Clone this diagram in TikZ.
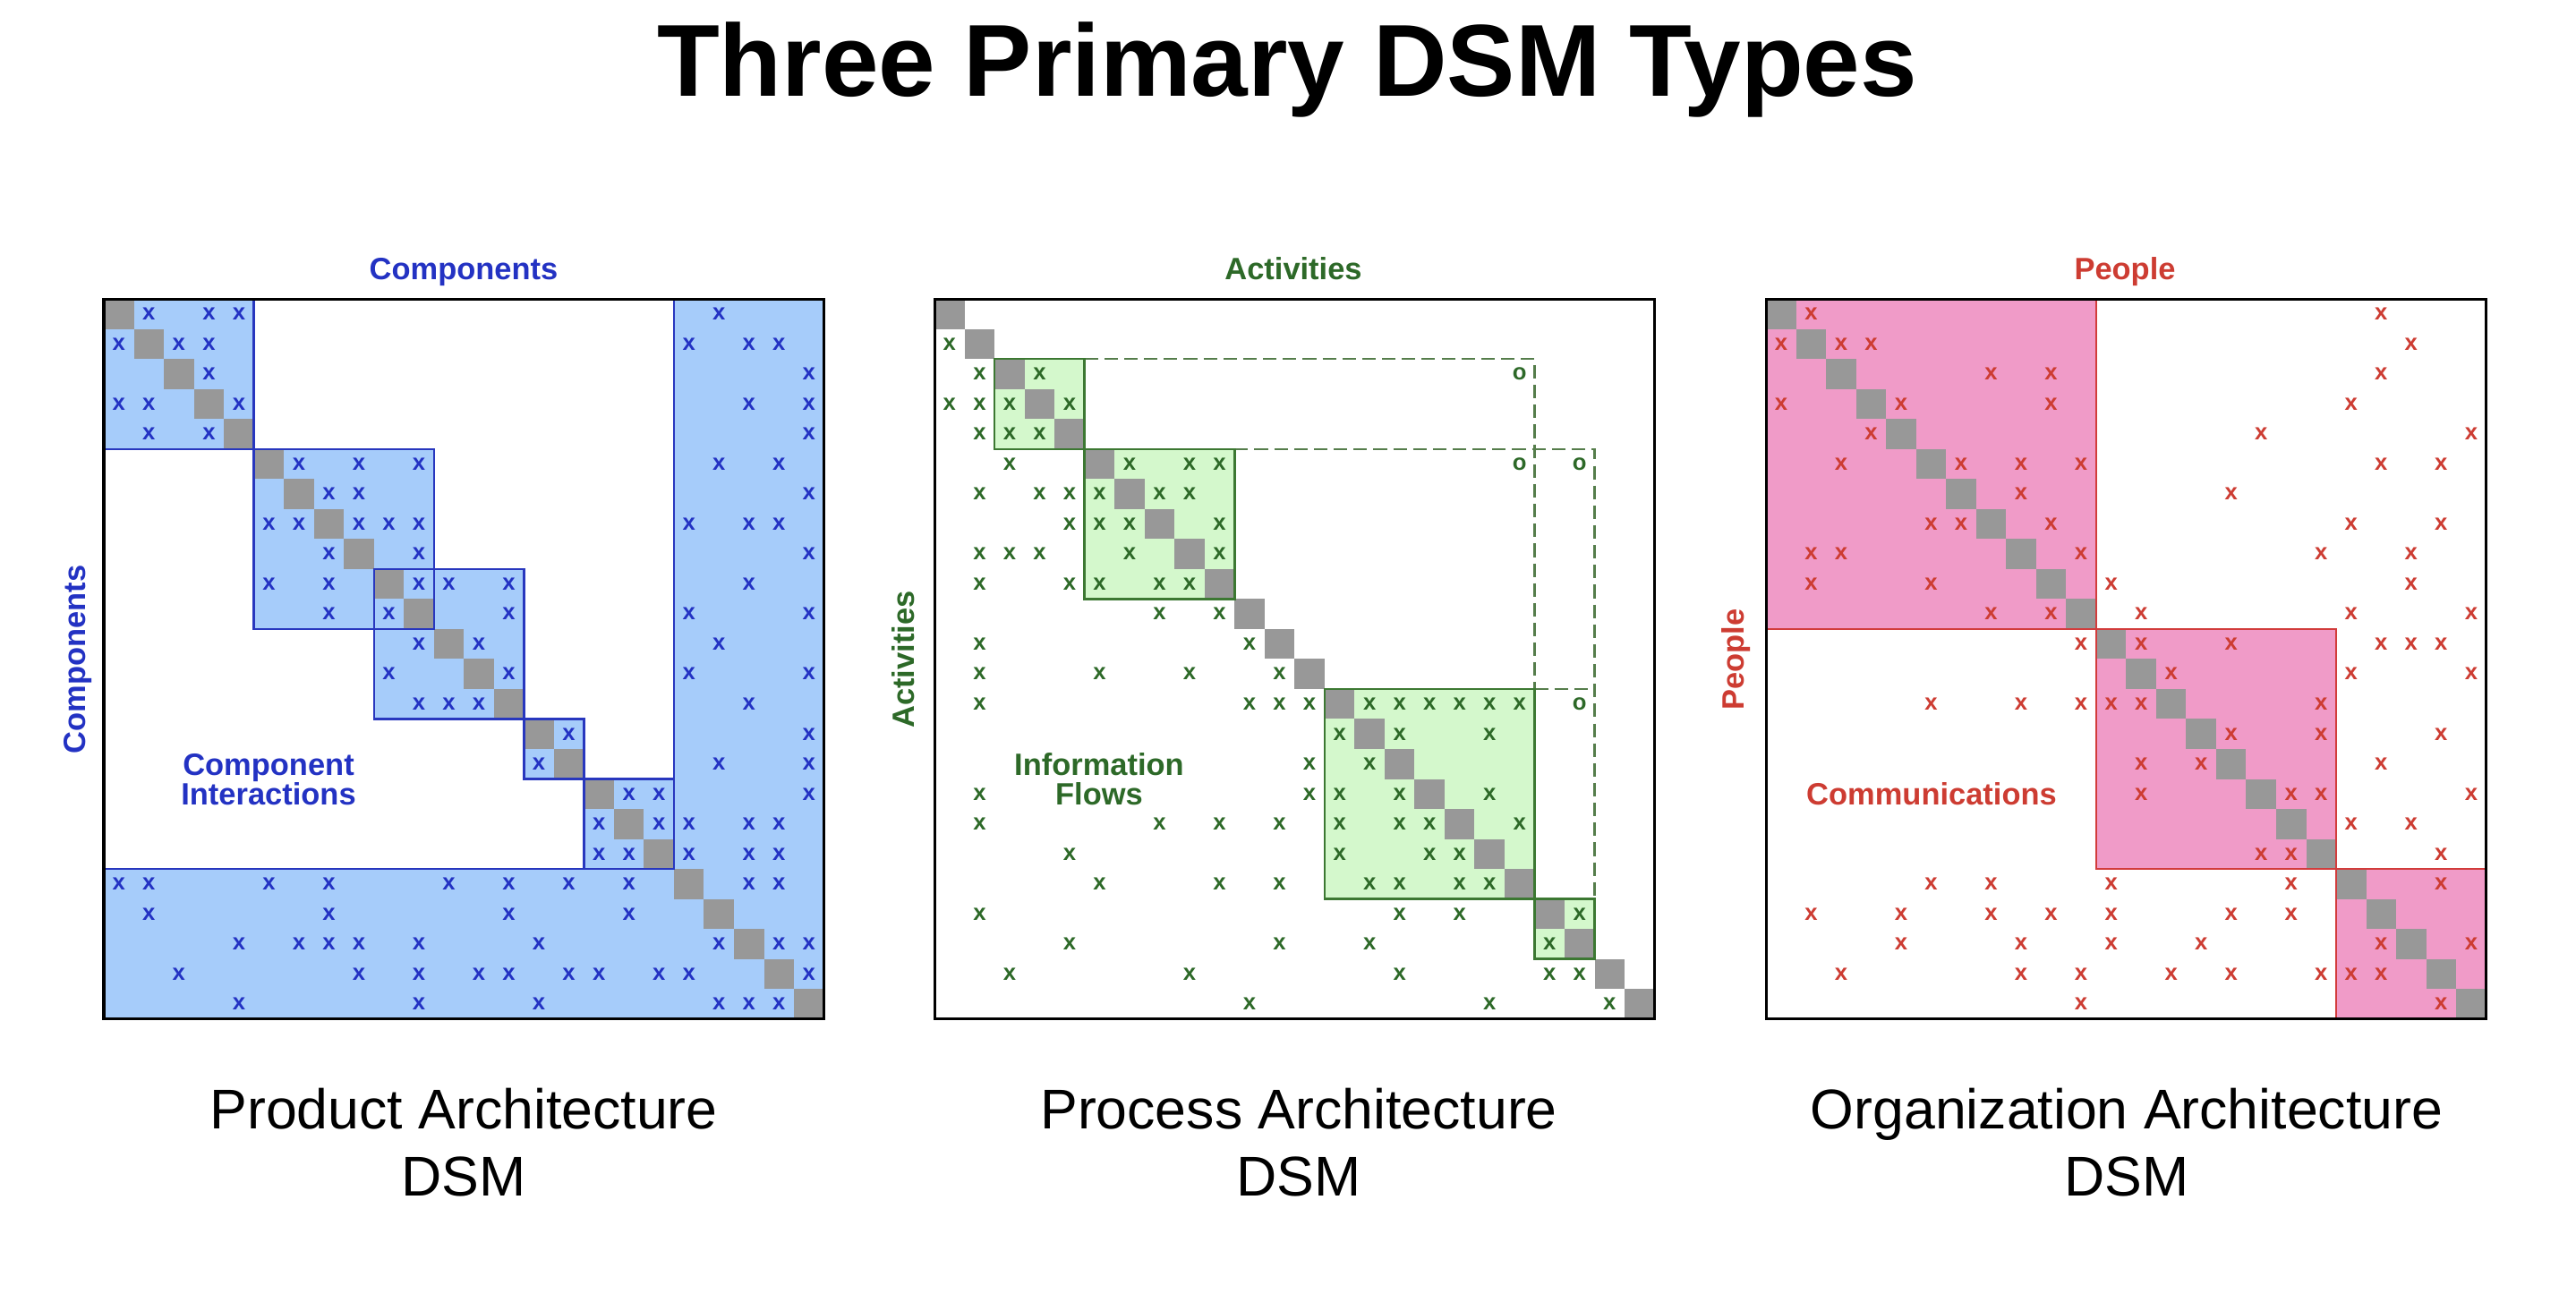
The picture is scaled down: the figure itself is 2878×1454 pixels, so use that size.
\documentclass[tikz,border=0pt]{standalone}
\usepackage{fontspec}
\setmainfont{Liberation Sans}
\definecolor{diaggray}{RGB}{152,152,152}
\definecolor{bfill}{RGB}{166,204,250}
\definecolor{bline}{RGB}{40,55,190}
\definecolor{btxt}{RGB}{35,50,195}
\definecolor{gfill}{RGB}{212,248,204}
\definecolor{gline}{RGB}{60,120,50}
\definecolor{gtxt}{RGB}{45,105,40}
\definecolor{gdash}{RGB}{85,125,75}
\definecolor{pfill}{RGB}{240,155,200}
\definecolor{rline}{RGB}{210,60,60}
\definecolor{rtxt}{RGB}{205,60,50}
\begin{document}
\begin{tikzpicture}[x=0.01cm,y=-0.01cm,
  mk/.style={font=\fontsize{7.3}{8}\selectfont\bfseries, inner sep=0pt},
  frame/.style={draw=black, line width=0.9pt},
  blk/.style={line width=0.7pt},
  dashln/.style={draw=gdash, line width=0.7pt, dash pattern=on 4.3pt off 2pt},
  axlab/.style={font=\fontsize{9.8}{9.4}\selectfont\bfseries, inner sep=0pt},
  inlab/.style={font=\fontsize{9.8}{9.4}\selectfont\bfseries, inner sep=0pt, anchor=base},
  botlab/.style={font=\fontsize{17.8}{21}\selectfont, inner sep=0pt, anchor=base}]
\useasboundingbox[fill=white] (0,0) rectangle (2878,1454);

\node[anchor=base, inner sep=0pt, font=\fontsize{32.5}{38}\selectfont\bfseries] (title) at (1438,107) {Three Primary DSM Types};

% ---------------- Matrix 1: Product ----------------
\begin{scope}[shift={(1.16cm,-3.34cm)},x=0.335cm,y=-0.335cm]
  \fill[bfill] (0,0) rectangle (5,5);
  \fill[bfill] (5,5) rectangle (11,11);
  \fill[bfill] (9,9) rectangle (14,14);
  \fill[bfill] (14,14) rectangle (16,16);
  \fill[bfill] (16,16) rectangle (19,19);
  \fill[bfill] (19,0) -- (24,0) -- (24,24) -- (0,24) -- (0,19) -- (19,19) -- cycle;
  \foreach \i in {0,...,23} \fill[diaggray] (\i,\i) rectangle ++(1,1);
  \draw[blk,bline] (0,0) rectangle (5,5);
  \draw[blk,bline] (5,5) rectangle (11,11);
  \draw[blk,bline] (9,9) rectangle (14,14);
  \draw[blk,bline] (14,14) rectangle (16,16);
  \draw[blk,bline] (16,16) rectangle (19,19);
  \draw[blk,bline] (19,0) -- (19,19) -- (0,19);
  \foreach \ro/\cs in {0/{1,3,4,20},1/{0,2,3,19,21,22},2/{3,23},3/{0,1,4,21,23},4/{1,3,23},
    5/{6,8,10,20,22},6/{7,8,23},7/{5,6,8,9,10,19,21,22},8/{7,10,23},9/{5,7,10,11,13,21},
    10/{7,9,13,19,23},11/{10,12,20},12/{9,13,19,23},13/{10,11,12,21},14/{15,23},
    15/{14,20,23},16/{17,18,23},17/{16,18,19,21,22},18/{16,17,19,21,22},
    19/{0,1,5,7,11,13,15,17,21,22},20/{1,7,13,17},21/{4,6,7,8,10,14,20,22,23},
    22/{2,8,10,12,13,15,16,18,19,23},23/{4,10,14,20,21,22}}
    \foreach \co in \cs \node[mk,text=btxt] (p\ro-\co) at (\co+0.5,\ro+0.5) {x};
  \draw[frame] (0,0) rectangle (24,24);
\end{scope}
\node[axlab,text=btxt,anchor=base] (ptop) at (518,312) {Components};
\node[axlab,text=btxt,anchor=base,rotate=90] (pleft) at (95,737) {Components};
\node[inlab,text=btxt,align=center] (pin1) at (300,866) {Component};
\node[inlab,text=btxt,align=center] (pin2) at (300,899) {Interactions};
\node[botlab] (pb1) at (518,1261) {Product Architecture};
\node[botlab] (pb2) at (518,1336) {DSM};

% ---------------- Matrix 2: Process ----------------
\begin{scope}[shift={(10.435cm,-3.34cm)},x=0.335cm,y=-0.335cm]
  \fill[gfill] (2,2) rectangle (5,5);
  \fill[gfill] (5,5) rectangle (10,10);
  \fill[gfill] (13,13) rectangle (20,20);
  \fill[gfill] (20,20) rectangle (22,22);
  \foreach \i in {0,...,23} \fill[diaggray] (\i,\i) rectangle ++(1,1);
  \draw[dashln] (5,2) -- (20,2) -- (20,13);
  \draw[dashln] (10,5) -- (22,5) -- (22,20);
  \draw[dashln] (20,13) -- (22,13);
  \draw[blk,gline] (2,2) rectangle (5,5);
  \draw[blk,gline] (5,5) rectangle (10,10);
  \draw[blk,gline] (13,13) rectangle (20,20);
  \draw[blk,gline] (20,20) rectangle (22,22);
  \foreach \ro/\cs in {1/{0},2/{1,3},3/{0,1,2,4},4/{1,2,3},5/{2,6,8,9},6/{1,3,4,5,7,8},
    7/{4,5,6,9},8/{1,2,3,6,9},9/{1,4,5,7,8},10/{7,9},11/{1,10},12/{1,5,8,11},
    13/{1,10,11,12,14,15,16,17,18,19},14/{13,15,18},15/{12,14},16/{1,12,13,15,18},
    17/{1,7,9,11,13,15,16,19},18/{4,13,16,17},19/{5,9,11,14,15,17,18},20/{1,15,17,21},
    21/{4,11,14,20},22/{2,8,15,20,21},23/{10,18,22}}
    \foreach \co in \cs \node[mk,text=gtxt] (q\ro-\co) at (\co+0.5,\ro+0.5) {x};
  \foreach \ro/\co in {2/19,5/19,5/21,13/21}
    \node[mk,text=gtxt] (qo\ro-\co) at (\co+0.5,\ro+0.5) {o};
  \draw[frame] (0,0) rectangle (24,24);
\end{scope}
\node[axlab,text=gtxt,anchor=base] (qtop) at (1445,312) {Activities};
\node[axlab,text=gtxt,anchor=base,rotate=90] (qleft) at (1021,737) {Activities};
\node[inlab,text=gtxt] (qin1) at (1228,866) {Information};
\node[inlab,text=gtxt] (qin2) at (1228,899) {Flows};
\node[botlab] (qb1) at (1451,1261) {Process Architecture};
\node[botlab] (qb2) at (1451,1336) {DSM};

% ---------------- Matrix 3: Organization ----------------
\begin{scope}[shift={(19.72cm,-3.34cm)},x=0.335cm,y=-0.335cm]
  \fill[pfill] (0,0) rectangle (11,11);
  \fill[pfill] (11,11) rectangle (19,19);
  \fill[pfill] (19,19) rectangle (24,24);
  \foreach \i in {0,...,23} \fill[diaggray] (\i,\i) rectangle ++(1,1);
  \draw[blk,rline] (0,0) rectangle (11,11);
  \draw[blk,rline] (11,11) rectangle (19,19);
  \draw[blk,rline] (19,19) rectangle (24,24);
  \foreach \ro/\cs in {0/{1,20},1/{0,2,3,21},2/{7,9,20},3/{0,4,9,19},4/{3,16,23},
    5/{2,6,8,10,20,22},6/{8,15},7/{5,6,9,19,22},8/{1,2,10,18,21},9/{1,5,11,21},
    10/{7,9,12,19,23},11/{10,12,15,20,21,22},12/{13,19,23},13/{5,8,10,11,12,18},
    14/{15,18,22},15/{12,14,20},16/{12,17,18,23},17/{19,21},18/{16,17,22},
    19/{5,7,11,17,22},20/{1,4,7,9,11,15,17},21/{4,8,11,14,20,23},
    22/{2,8,10,13,15,18,19,20},23/{10,22}}
    \foreach \co in \cs \node[mk,text=rtxt] (s\ro-\co) at (\co+0.5,\ro+0.5) {x};
  \draw[frame] (0,0) rectangle (24,24);
\end{scope}
\node[axlab,text=rtxt,anchor=base] (stop) at (2374,312) {People};
\node[axlab,text=rtxt,anchor=base,rotate=90] (sleft) at (1948,737) {People};
\node[inlab,text=rtxt] (sin) at (2158,899) {Communications};
\node[botlab] (sb1) at (2376,1261) {Organization Architecture};
\node[botlab] (sb2) at (2376,1336) {DSM};
\end{tikzpicture}
\end{document}
